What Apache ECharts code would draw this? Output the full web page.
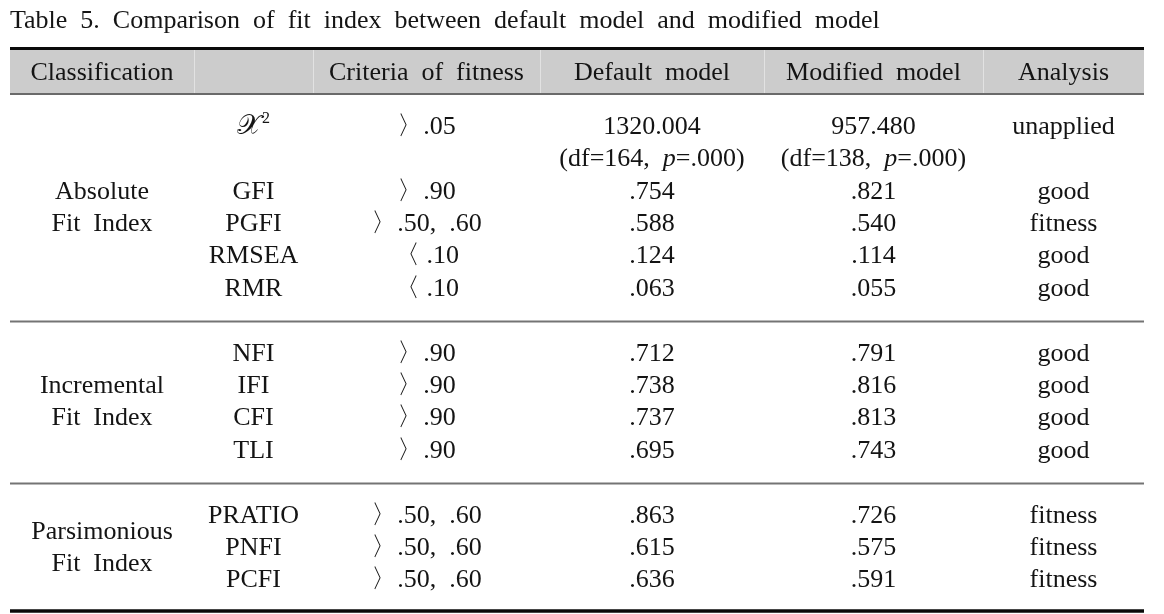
<!DOCTYPE html>
<html>
<head>
<meta charset="utf-8">
<script src="https://cdn.jsdelivr.net/npm/echarts@6/dist/echarts.min.js"></script>
<style>
    html, body { margin: 0; padding: 0; background: #fff; }
    #table5 { width: 1164px; height: 614px; }
</style>
</head>
<body>
<div id="table5"></div>
<script>
    // table content
    var titleText = 'Table  5.  Comparison  of  fit  index  between  default  model  and  modified  model';
    var headers = ['Classification', '', 'Criteria  of  fitness', 'Default  model', 'Modified  model', 'Analysis'];
    var groupNames = ['Absolute\nFit  Index', 'Incremental\nFit  Index', 'Parsimonious\nFit  Index'];
    var groupSizes = [5, 4, 3];
    var indexNames = ['χ²', 'GFI', 'PGFI', 'RMSEA', 'RMR', 'NFI', 'IFI', 'CFI', 'TLI', 'PRATIO', 'PNFI', 'PCFI'];
    var criteria = ['〉.05', '〉.90', '〉.50,  .60', '〈 .10', '〈 .10', '〉.90', '〉.90', '〉.90', '〉.90', '〉.50,  .60', '〉.50,  .60', '〉.50,  .60'];
    var defaultModel = ['1320.004', '.754', '.588', '.124', '.063', '.712', '.738', '.737', '.695', '.863', '.615', '.636'];
    var modifiedModel = ['957.480', '.821', '.540', '.114', '.055', '.791', '.816', '.813', '.743', '.726', '.575', '.591'];
    var chiDf = [164, 138];
    var chiP = ['.000', '.000'];
    var analysis = ['unapplied', 'good', 'fitness', 'good', 'good', 'good', 'good', 'good', 'good', 'fitness', 'fitness', 'fitness'];

    // layout
    var colEdges = [10, 194, 313, 540, 764, 983, 1144];
    var rowPx = 32.4;       // px per row unit
    var firstRowPx = 127;   // centre of first body row
    var font = 'Liberation Serif';
    var fontSize = 26;
    var ink = '#141414';

    function colMid(c) { return (colEdges[c] + colEdges[c + 1]) / 2; }

    // build cells
    var cells = [];
    var rules = [];
    cells.push({x: colEdges[0], y: -3.28, text: titleText, align: 'left'});
    for (var h = 0; h < headers.length; h++) {
        if (headers[h]) cells.push({x: colMid(h), y: -1.66, text: headers[h]});
    }
    var r = 0, k = 0;
    for (var g = 0; g < groupSizes.length; g++) {
        var start = r;
        for (var j = 0; j < groupSizes[g]; j++, k++) {
            if (k === 0) {
                cells.push({x: colMid(1), y: r, text: '{chi|𝒳}{sup|2}'});
            } else {
                cells.push({x: colMid(1), y: r, text: indexNames[k]});
            }
            cells.push({x: colMid(2), y: r, text: criteria[k]});
            cells.push({x: colMid(3), y: r, text: defaultModel[k]});
            cells.push({x: colMid(4), y: r, text: modifiedModel[k]});
            cells.push({x: colMid(5), y: r, text: analysis[k]});
            if (k === 0) {
                r++;
                cells.push({x: colMid(3), y: r, text: '(df=' + chiDf[0] + ',  {it|p}=' + chiP[0] + ')'});
                cells.push({x: colMid(4), y: r, text: '(df=' + chiDf[1] + ',  {it|p}=' + chiP[1] + ')'});
            }
            r++;
        }
        cells.push({x: colMid(0), y: (start + r - 1) / 2, text: groupNames[g]});
        if (g < groupSizes.length - 1) {
            rules.push({y: r, h: 2, color: '#747474'});
        } else {
            rules.push({y: r - 1 + 0.94, h: 3.5, color: '#0a0a0a'});
        }
        r++;
    }
    rules.push({y: -2.42, h: 3, color: '#0a0a0a'});
    rules.push({y: -1.02, h: 2, color: '#6a6a6a'});

    var richStyles = {
        chi: {fontFamily: 'DejaVu Serif', fontSize: 28, color: ink},
        sup: {fontFamily: font, fontSize: 16, color: ink, verticalAlign: 'top', padding: [0, 0, 14, 1]},
        it: {fontFamily: font, fontStyle: 'italic', fontSize: fontSize, color: ink}
    };

    var option = {
        animation: false,
        grid: {left: 0, right: 0, top: 0, bottom: 0},
        xAxis: {type: 'value', min: 0, max: 1164, show: false},
        yAxis: {
            type: 'value', inverse: true, show: false,
            min: -firstRowPx / rowPx, max: (614 - firstRowPx) / rowPx
        },
        series: [
            {
                // header band and separators
                type: 'custom',
                data: [[colEdges[0], -2.42]],
                renderItem: function (params, api) {
                    var a = api.coord([colEdges[0], -2.42]);
                    var b = api.coord([colEdges[colEdges.length - 1], -1.02]);
                    var kids = [{
                        type: 'rect',
                        shape: {x: a[0], y: a[1], width: b[0] - a[0], height: b[1] - a[1]},
                        style: {fill: '#cccccc'}
                    }];
                    for (var i = 1; i < colEdges.length - 1; i++) {
                        var p = api.coord([colEdges[i], 0]);
                        kids.push({
                            type: 'rect',
                            shape: {x: p[0], y: a[1], width: 1, height: b[1] - a[1]},
                            style: {fill: '#e2e2e2'}
                        });
                    }
                    return {type: 'group', children: kids};
                }
            },
            {
                // horizontal rules
                type: 'custom',
                data: rules.map(function (d) { return [colEdges[0], d.y]; }),
                renderItem: function (params, api) {
                    var d = rules[params.dataIndex];
                    var a = api.coord([colEdges[0], d.y]);
                    var b = api.coord([colEdges[colEdges.length - 1], d.y]);
                    return {
                        type: 'rect',
                        shape: {x: a[0], y: a[1] - d.h / 2, width: b[0] - a[0], height: d.h},
                        style: {fill: d.color}
                    };
                }
            },
            {
                // text cells
                type: 'custom',
                data: cells.map(function (c) { return [c.x, c.y]; }),
                renderItem: function (params, api) {
                    var c = cells[params.dataIndex];
                    var p = api.coord([api.value(0), api.value(1)]);
                    return {
                        type: 'text',
                        x: p[0], y: p[1],
                        style: {
                            text: c.text,
                            fill: ink,
                            fontFamily: font,
                            fontSize: fontSize,
                            align: c.align || 'center',
                            verticalAlign: 'middle',
                            lineHeight: rowPx,
                            rich: richStyles
                        }
                    };
                }
            }
        ]
    };

    echarts.init(document.getElementById('table5')).setOption(option);
</script>
</body>
</html>
